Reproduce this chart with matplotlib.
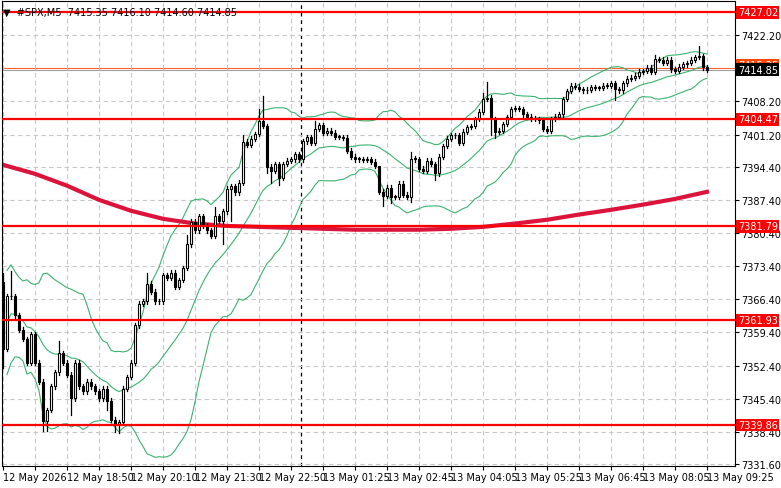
import numpy as np
import pandas as pd
import matplotlib
matplotlib.use("Agg")
import matplotlib.pyplot as plt
from matplotlib.patches import Rectangle

# closes of the M5 bars (open = previous close)
closes = [7356.0, 7367.0, 7367.0, 7363.0, 7360.0, 7358.0, 7353.0, 7359.0, 7353.0, 7349.0,
          7340.8, 7343.0, 7348.0, 7351.0, 7355.0, 7353.0, 7350.5, 7345.5, 7353.0, 7348.0,
          7347.0, 7349.0, 7348.0, 7347.0, 7345.5, 7347.5, 7345.0, 7341.0, 7340.0, 7340.5,
          7347.5, 7350.0, 7353.0, 7360.9, 7365.5, 7366.0, 7369.7, 7368.0, 7366.0, 7366.0,
          7371.5, 7371.0, 7372.0, 7369.0, 7370.5, 7373.0, 7378.0, 7382.8, 7381.0, 7384.0,
          7382.0, 7381.0, 7379.8, 7384.0, 7383.0, 7385.0, 7389.8, 7390.3, 7389.0, 7391.0,
          7399.7, 7399.0, 7400.3, 7401.3, 7404.0, 7403.0, 7394.4, 7393.5, 7395.0, 7392.0,
          7395.0, 7395.7, 7396.0, 7397.1, 7396.0, 7399.8, 7400.7, 7399.5, 7402.4, 7403.2,
          7401.5, 7402.0, 7401.6, 7400.7, 7400.7, 7400.5, 7397.8, 7396.5, 7396.0, 7396.0,
          7395.9, 7396.0, 7395.5, 7394.6, 7389.1, 7388.3, 7390.0, 7388.0, 7388.0, 7390.8,
          7388.5, 7388.0, 7396.1, 7396.0, 7394.0, 7393.5, 7395.7, 7395.0, 7393.0, 7396.5,
          7398.8, 7400.3, 7401.0, 7401.0, 7399.5, 7401.8, 7402.8, 7403.0, 7404.5, 7406.0,
          7408.7, 7409.0, 7404.5, 7401.8, 7402.0, 7403.4, 7404.9, 7406.6, 7406.7, 7406.6,
          7405.5, 7405.0, 7404.6, 7404.5, 7404.2, 7402.4, 7402.0, 7404.5, 7405.0, 7405.5,
          7408.7, 7410.4, 7411.5, 7411.3, 7410.8, 7410.5, 7410.7, 7411.2, 7411.0, 7411.0,
          7411.5, 7411.5, 7412.1, 7410.8, 7410.5, 7412.0, 7413.0, 7413.2, 7413.6, 7414.5,
          7414.6, 7415.3, 7414.5, 7417.1, 7417.0, 7416.3, 7417.0, 7415.0, 7414.7, 7415.5,
          7416.0, 7416.3, 7417.0, 7417.6, 7417.8, 7415.4, 7414.85]
first_open = 7370.0

# bars with a long wick, {bar: price}
highs_seen = {0: 7372.0, 2: 7372.3, 14: 7357.5, 36: 7372.0, 46: 7380.0, 53: 7386.0,
              60: 7401.0, 64: 7406.5, 65: 7409.3, 78: 7404.0, 94: 7392.0, 102: 7397.5,
              120: 7410.0, 121: 7412.3, 163: 7418.0, 174: 7419.9}
lows_seen = {0: 7352.0, 10: 7338.5, 11: 7338.6, 17: 7342.0, 26: 7343.0, 28: 7338.3,
             29: 7338.2, 55: 7378.0, 57: 7383.0, 66: 7393.0, 67: 7391.0, 69: 7390.5,
             95: 7386.2, 97: 7386.8, 102: 7387.0, 108: 7391.5, 122: 7401.0, 123: 7400.5,
             153: 7408.5}

# 200 period MA, read every 8 bars
ma_bars = list(range(0, 177, 8))
ma_vals = [7394.8, 7392.9, 7390.4, 7387.4, 7385.1, 7383.4, 7382.4, 7381.9, 7381.7, 7381.5,
           7381.3, 7381.1, 7381.1, 7381.1, 7381.3, 7381.7, 7382.4, 7383.2, 7384.3, 7385.3,
           7386.4, 7387.6, 7389.1]

levels = [7427.02, 7404.47, 7381.79, 7361.93, 7339.86]
last_price = 7414.85
ask_price = 7415.35

y_ticks = [7331.60, 7338.40, 7345.40, 7352.40, 7359.40, 7366.40, 7373.40, 7380.40,
           7387.40, 7394.40, 7401.20, 7408.20, 7422.20]
x_labels = ["12 May 2026", "12 May 18:50", "12 May 20:10", "12 May 21:30", "12 May 22:50",
            "13 May 01:25", "13 May 02:45", "13 May 04:05", "13 May 05:25", "13 May 06:45",
            "13 May 08:05", "13 May 09:25"]
day_split = 74.5

close = pd.Series(closes)
opens = [first_open] + closes[:-1]
mid = close.rolling(20, min_periods=2).mean()
sd = close.rolling(20, min_periods=2).std(ddof=0)
upper = mid + 2 * sd
lower = mid - 2 * sd

fig = plt.figure(figsize=(7.81, 4.89), dpi=100)
ax = fig.add_axes([2 / 781, 22 / 489, 733 / 781, 465 / 489])
ax.set_xlim(-0.25, 183.0)
ax.set_ylim(7331.2, 7429.4)

for i in range(len(closes)):
    o, c = opens[i], closes[i]
    hi = highs_seen.get(i, max(o, c) + 0.5)
    lo = lows_seen.get(i, min(o, c) - 0.5)
    ax.plot([i, i], [lo, hi], color="black", lw=0.9, zorder=3)
    bot, h = min(o, c), max(abs(c - o), 0.15)
    ax.add_patch(Rectangle((i - 0.33, bot), 0.66, h, facecolor="white" if c >= o else "black",
                           edgecolor="black", lw=0.8, zorder=4))

x = np.arange(len(closes))
for band in (upper, mid, lower):
    ax.plot(x, band, color="#3cb371", lw=0.8, zorder=2)
ax.plot(ma_bars, ma_vals, color="#dc143c", lw=3, zorder=2)

for lv in levels:
    ax.axhline(lv, color="red", lw=1.6, zorder=5)
ax.axhline(last_price, color="#a0a0a0", lw=0.8, zorder=1)
ax.axhline(ask_price, color="#ff6030", lw=0.8, zorder=1)
ax.axvline(day_split, color="black", lw=0.9, ls=(0, (3, 3)), zorder=1)

ax.yaxis.tick_right()
ax.set_yticks(y_ticks)
ax.set_yticklabels([f"{v:.2f}" for v in y_ticks], fontsize=7)
ax.set_xticks(range(0, 177, 8), minor=False)
ax.set_xticklabels([x_labels[k // 2] if k % 2 == 0 else "" for k in range(23)], fontsize=7, ha="left")
ax.tick_params(length=3, pad=1.5, color="black")
for lab in ax.get_xticklabels():
    lab.set_x(lab.get_position()[0])
ax.grid(True, color="#c8c8c8", ls=(0, (4, 3)), lw=0.8)
for s in ax.spines.values():
    s.set_color("black")

def price_tag(v, face, y_off=0):
    ax.annotate(f"{v:.2f}", xy=(1.0, v), xycoords=("axes fraction", "data"),
                xytext=(2, y_off), textcoords="offset points", va="center", ha="left",
                fontsize=7, color="white",
                bbox=dict(boxstyle="square,pad=0.15", fc=face, ec="none"), zorder=10,
                annotation_clip=False)

price_tag(ask_price, "#ff4500", 1.5)
price_tag(last_price, "black")
for lv in levels:
    price_tag(lv, "red")

fig.text(0.004, 0.985, "\u25bc  #SPX,M5  7415.35 7416.10 7414.60 7414.85", fontsize=7, va="top")
fig.savefig("out.png", dpi=100)
